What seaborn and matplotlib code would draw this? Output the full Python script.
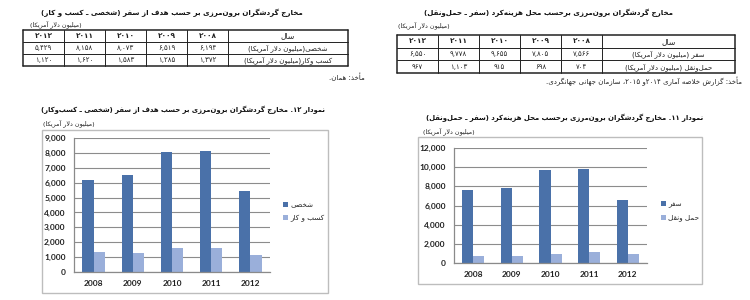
import re
import numpy as np
import pandas as pd
import matplotlib
matplotlib.use("Agg")
import matplotlib.pyplot as plt
import seaborn as sns
from matplotlib.patches import Rectangle
from matplotlib.ticker import FuncFormatter

# ---------------- data ----------------
years = [2008, 2009, 2010, 2011, 2012]
personal = [6194, 6519, 8073, 8158, 5429]
business = [1372, 1285, 1583, 1620, 1120]
travel = [7566, 7805, 9655, 9778, 6550]
transport = [704, 698, 915, 1103, 967]

title_t1 = "مخارج گردشگران برون‌مرزی بر حسب هدف از سفر (شخصی ـ کسب و کار)"
title_t2 = "مخارج گردشگران برون‌مرزی برحسب محل هزینه‌کرد (سفر ـ حمل‌ونقل)"
title_c12 = "نمودار ۱۲. مخارج گردشگران برون‌مرزی بر حسب هدف از سفر (شخصی ـ کسب‌وکار)"
title_c11 = "نمودار ۱۱. مخارج گردشگران برون‌مرزی برحسب محل هزینه‌کرد (سفر ـ حمل‌ونقل)"
unit = "(میلیون دلار آمریکا)"
year_hdr = "سال"
rows_t1 = ["شخصی(میلیون دلار آمریکا)", "کسب وکار(میلیون دلار آمریکا)"]
rows_t2 = ["سفر (میلیون دلار آمریکا)", "حمل‌ونقل (میلیون دلار آمریکا)"]
src1 = "مأخذ: همان."
src2 = "مأخذ: گزارش خلاصه آماری ۲۰۱۴و ۲۰۱۵، سازمان جهانی جهانگردی."
leg12 = ["شخصی", "کسب و کار"]
leg11 = ["سفر", "حمل ونقل"]

# ---------------- minimal Persian shaping + RTL ordering ----------------
F = {}
for ch, base in [("ب", 0xFE8F), ("ت", 0xFE95), ("ث", 0xFE99), ("ج", 0xFE9D),
                 ("ح", 0xFEA1), ("خ", 0xFEA5), ("س", 0xFEB1), ("ش", 0xFEB5),
                 ("ص", 0xFEB9), ("ض", 0xFEBD), ("ط", 0xFEC1), ("ظ", 0xFEC5),
                 ("ع", 0xFEC9), ("غ", 0xFECD), ("ف", 0xFED1), ("ق", 0xFED5),
                 ("ل", 0xFEDD), ("م", 0xFEE1), ("ن", 0xFEE5), ("ه", 0xFEE9),
                 ("ئ", 0xFE89), ("پ", 0xFB56), ("چ", 0xFB7A), ("ک", 0xFB8E),
                 ("گ", 0xFB92), ("ی", 0xFBFC), ("ي", 0xFEF1), ("ك", 0xFED9)]:
    F[ch] = tuple(chr(base + k) for k in range(4))
for ch, base in [("ا", 0xFE8D), ("آ", 0xFE81), ("أ", 0xFE83), ("إ", 0xFE87),
                 ("ؤ", 0xFE85), ("د", 0xFEA9), ("ذ", 0xFEAB), ("ر", 0xFEAD),
                 ("ز", 0xFEAF), ("و", 0xFEED), ("ة", 0xFE93), ("ژ", 0xFB8A)]:
    F[ch] = (chr(base), chr(base + 1), None, None)
LAMALEF = {"ا": ("\uFEFB", "\uFEFC"), "آ": ("\uFEF5", "\uFEF6"),
           "أ": ("\uFEF7", "\uFEF8"), "إ": ("\uFEF9", "\uFEFA")}


def _joins_fwd(c):
    return c in F and F[c][2] is not None


def shape(s):
    out, i, n = [], 0, len(s)
    while i < n:
        c = s[i]
        if c not in F:
            if c != "\u200c":
                out.append(c)
            i += 1
            continue
        cp = i > 0 and _joins_fwd(s[i - 1])
        if c == "ل" and i + 1 < n and s[i + 1] in LAMALEF:
            out.append(LAMALEF[s[i + 1]][1 if cp else 0])
            i += 2
            continue
        cn = _joins_fwd(c) and i + 1 < n and s[i + 1] in F
        f = F[c]
        out.append(f[3] if (cp and cn) else f[1] if cp else f[2] if cn else f[0])
        i += 1
    return "".join(out)


MIRROR = {"(": ")", ")": "("}


def fa(s):
    t = shape(s)
    toks = re.findall(r"[0-9۰-۹](?:[0-9۰-۹,.]*[0-9۰-۹])?|.", t)
    return "".join(MIRROR.get(x, x) for x in reversed(toks))


def pnum(v):
    return f"{v:,}".translate(str.maketrans("0123456789", "۰۱۲۳۴۵۶۷۸۹"))


# ---------------- figure ----------------
sns.set_theme(style="white")
plt.rcParams["font.family"] = ["DejaVu Sans"]
fig = plt.figure(figsize=(7.5, 3.0), dpi=100)
fig.patch.set_facecolor("white")

ov = fig.add_axes([0, 0, 1, 1])
ov.set_xlim(0, 750)
ov.set_ylim(300, 0)
ov.axis("off")

AR = "DejaVu Sans"
DARK = "#4A71A9"
LIGHT = "#9AAFDA"


def draw_table(edges, top, rh, rows, series, title, tx, ty, ux, uy, src, sx, sy):
    bottom = top + 3 * rh
    for k, x in enumerate(edges):
        lw = 1.1 if k in (0, len(edges) - 1) else 0.7
        ov.plot([x, x], [top, bottom], color="#222222", lw=lw)
    for r in range(4):
        y = top + r * rh
        lw = 1.1 if r in (0, 3) else 0.7
        ov.plot([edges[0], edges[-1]], [y, y], color="#222222", lw=lw)
    ov.text((edges[5] + edges[6]) / 2, top + rh / 2, fa(year_hdr), ha="center",
            va="center", fontsize=5.5, family=AR, color="#222222")
    for k, yr in enumerate(years):
        cx = (edges[4 - k] + edges[5 - k]) / 2
        ov.text(cx, top + rh / 2, pnum(yr).replace(",", ""), ha="center", va="center",
                fontsize=5.3, family=AR, weight="bold", color="#222222")
        for r, ser in enumerate(series):
            ov.text(cx, top + rh * (r + 1.5), pnum(ser[k]), ha="center", va="center",
                    fontsize=5.0, family=AR, color="#222222")
    for r, lab in enumerate(rows):
        ov.text((edges[5] + edges[6]) / 2, top + rh * (r + 1.5), fa(lab), ha="center",
                va="center", fontsize=5.0, family=AR, color="#222222")
    ov.text(tx, ty, fa(title), ha="center", va="center", fontsize=5.1, family=AR,
            weight="bold", color="#111111")
    ov.text(ux, uy, fa(unit), ha="left", va="center", fontsize=4.6, family=AR,
            color="#222222")
    ov.text(sx, sy, fa(src), ha="right", va="center", fontsize=5.0, family=AR,
            color="#222222")


draw_table([23, 64, 105, 146, 187, 228, 348], 30, 12, rows_t1, [personal, business],
           title_t1, 172, 13, 30, 24, src1, 365, 77)
draw_table([397, 438, 479, 520, 561, 602, 735], 35, 12.7, rows_t2, [travel, transport],
           title_t2, 549, 13, 398, 25, src2, 742, 81)

# chart frames
ov.add_patch(Rectangle((42, 130), 286, 163, fill=False, ec="#bdbdbd", lw=1.0))
ov.add_patch(Rectangle((418, 137), 284, 147, fill=False, ec="#bdbdbd", lw=1.0))

# chart titles and units
ov.text(325, 110, fa(title_c12), ha="right", va="center", fontsize=4.95, family=AR,
        weight="bold", color="#111111")
ov.text(43, 123, fa(unit), ha="left", va="center", fontsize=4.6, family=AR, color="#222222")
ov.text(703, 118, fa(title_c11), ha="right", va="center", fontsize=4.95, family=AR,
        weight="bold", color="#111111")
ov.text(423, 131, fa(unit), ha="left", va="center", fontsize=4.6, family=AR, color="#222222")


def px_axes(x0, x1, ytop, ybot):
    return fig.add_axes([x0 / 750, (300 - ybot) / 300, (x1 - x0) / 750, (ybot - ytop) / 300])


def bar_chart(ax, s1, s2, names, ymax, step, legx, legy):
    df = pd.DataFrame({"year": years * 2, "value": s1 + s2,
                       "series": [fa(names[0])] * 5 + [fa(names[1])] * 5})
    sns.barplot(data=df, x="year", y="value", hue="series", palette=[DARK, LIGHT],
                width=0.57, gap=0, saturation=1, linewidth=0, ax=ax, errorbar=None)
    ax.set_facecolor("none")
    ax.set_xlim(-0.5, 4.5)
    ax.set_ylim(0, ymax)
    ax.set_yticks(np.arange(0, ymax + 1, step))
    ax.yaxis.set_major_formatter(FuncFormatter(lambda v, p: f"{v:,.0f}"))
    ax.set_xticks(np.arange(-0.5, 5, 1), minor=True)
    ax.tick_params(axis="x", which="major", length=0, pad=6)
    ax.tick_params(axis="x", which="minor", length=3, width=0.8, color="#8a8a8a", direction="out")
    ax.tick_params(axis="y", length=3, width=0.8, color="#8a8a8a", direction="out", pad=3)
    for lab in ax.get_xticklabels() + ax.get_yticklabels():
        lab.set_fontfamily("Lato")
        lab.set_fontweight("bold")
        lab.set_fontsize(6)
        lab.set_color("#222222")
    ax.grid(axis="y", color="#8c8c8c", lw=0.8)
    ax.set_axisbelow(True)
    for sp in ["top", "right"]:
        ax.spines[sp].set_visible(False)
    for sp in ["left", "bottom"]:
        ax.spines[sp].set_color("#8a8a8a")
        ax.spines[sp].set_linewidth(0.9)
    ax.set_xlabel("")
    ax.set_ylabel("")
    ax.legend(loc="center left", bbox_to_anchor=(legx, legy), frameon=False,
              prop={"family": AR, "size": 5.2}, handlelength=0.7, handleheight=0.7,
              handletextpad=0.3, labelspacing=0.9, borderpad=0, borderaxespad=0)


ax1 = px_axes(74, 270, 138, 272)
bar_chart(ax1, personal, business, leg12, 9000, 1000, 1.066, 0.45)
ax2 = px_axes(454, 647, 148, 263)
bar_chart(ax2, travel, transport, leg11, 12000, 2000, 1.073, 0.45)

fig.savefig("out.png", dpi=100, facecolor="white")
